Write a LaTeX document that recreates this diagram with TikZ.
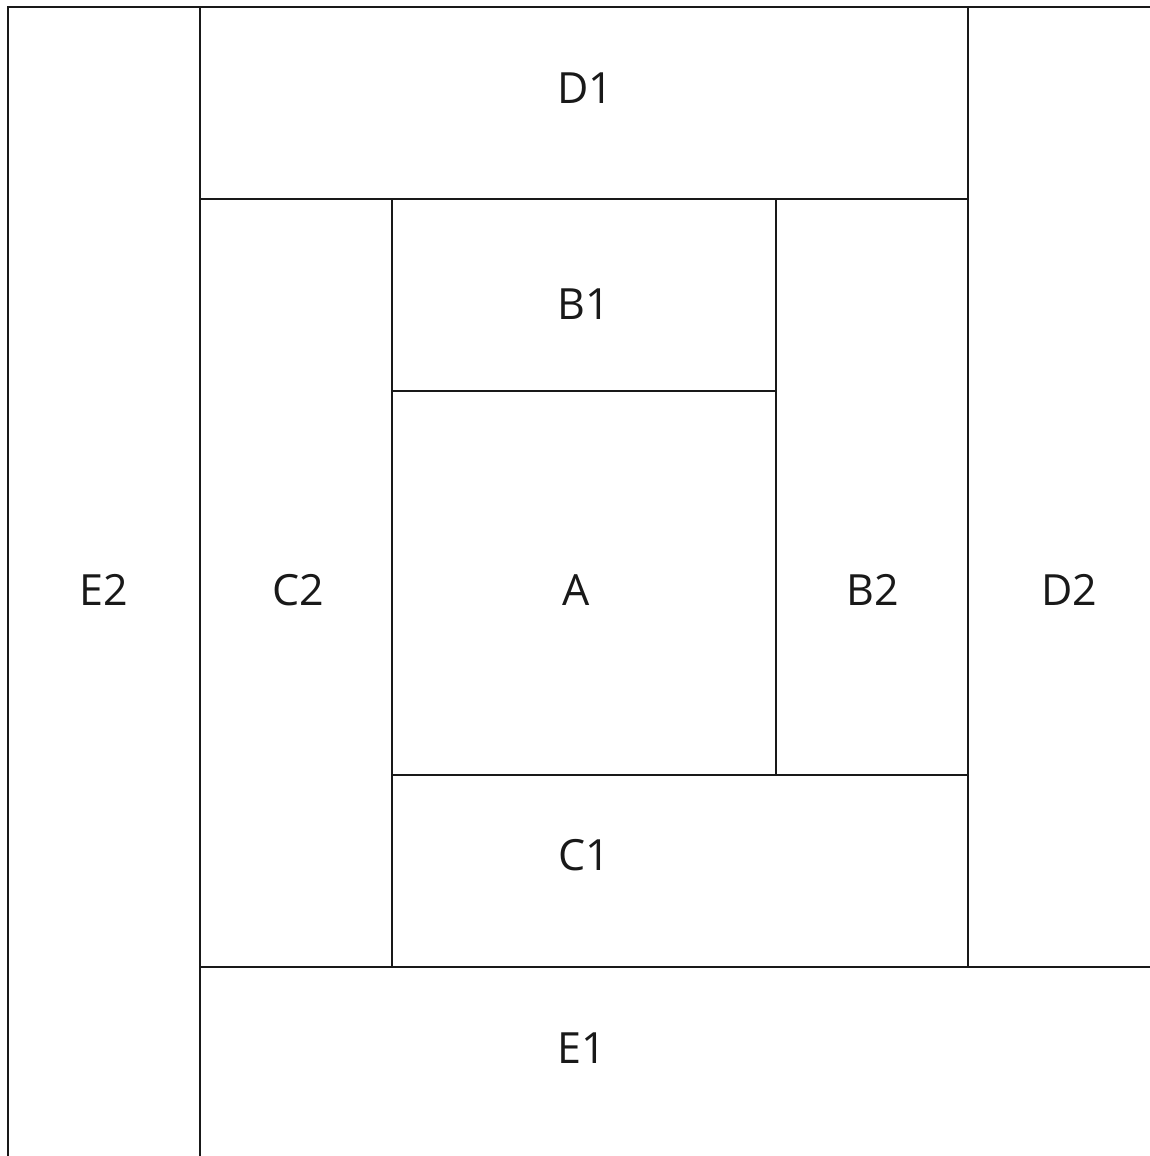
\documentclass[tikz,border=0pt]{standalone}
\usepackage{fontspec}
\setmainfont{Open Sans}
\begin{document}
\begin{tikzpicture}[x=1pt,y=-1pt,
  piece/.style={draw=black!90, line width=2.2pt},
  lbl/.style={font=\fontsize{43}{50}\selectfont, inner sep=0pt, text=black!90}]
\useasboundingbox (0,0) rectangle (1150,1156);
\clip (0,0) rectangle (1150,1156);
\fill[white] (0,0) rectangle (1150,1156);
% pieces
\draw[piece] (8,7) rectangle (200,1170);     % E2
\draw[piece] (200,7) rectangle (968,199);    % D1
\draw[piece] (968,7) rectangle (1170,967);   % D2
\draw[piece] (200,199) rectangle (392,967);  % C2
\draw[piece] (392,199) rectangle (776,391);  % B1
\draw[piece] (392,391) rectangle (776,775);  % A
\draw[piece] (776,199) rectangle (968,775);  % B2
\draw[piece] (392,775) rectangle (968,967);  % C1
\draw[piece] (200,967) rectangle (1170,1170);% E1
% labels
\node[lbl] (d1) at (585,88) {D1};
\node[lbl] (b1) at (584,304) {B1};
\node[lbl] (e2) at (104,590) {E2};
\node[lbl] (c2) at (298,590) {C2};
\node[lbl] (a) at (576,590) {A};
\node[lbl] (b2) at (873,590) {B2};
\node[lbl] (d2) at (1069,590) {D2};
\node[lbl] (c1) at (584,855) {C1};
\node[lbl] (e1) at (582,1048) {E1};
\end{tikzpicture}
\end{document}
